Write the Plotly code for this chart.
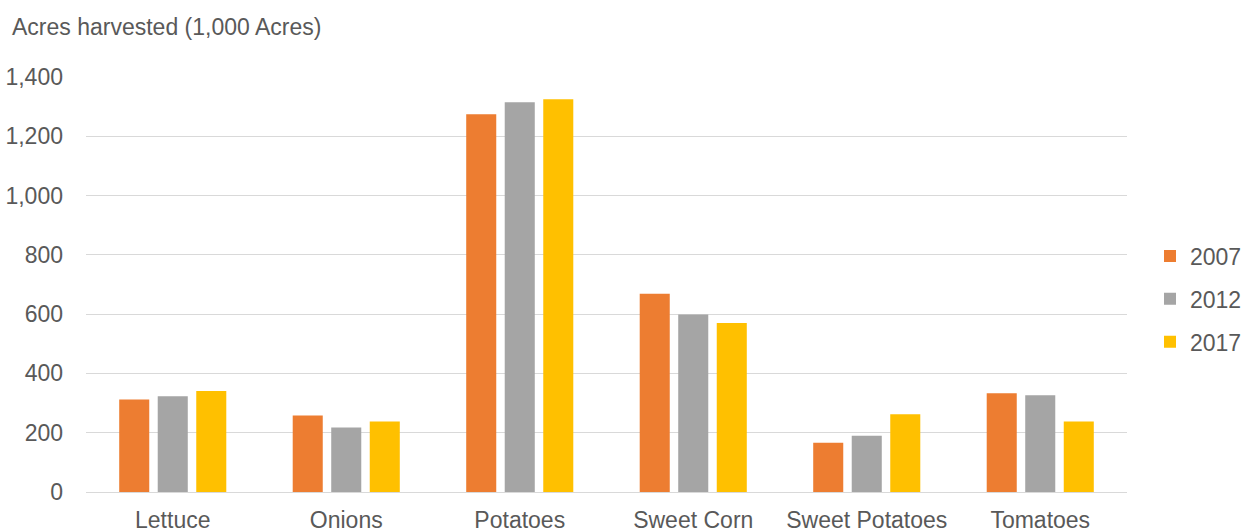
import plotly.graph_objects as go

# Harvested area by crop, thousands of acres
crops = ["Lettuce", "Onions", "Potatoes", "Sweet Corn", "Sweet Potatoes", "Tomatoes"]
acres_2007 = [312, 258, 1274, 669, 166, 333]
acres_2012 = [323, 218, 1315, 599, 190, 326]
acres_2017 = [341, 238, 1325, 570, 262, 238]

years = ["2007", "2012", "2017"]
colors = ["#ED7D31", "#A5A5A5", "#FFC000"]
series = [acres_2007, acres_2012, acres_2017]

tick_vals = [0, 200, 400, 600, 800, 1000, 1200, 1400]
tick_text = ["0", "200", "400", "600", "800", "1,000", "1,200", "1,400"]

FONT = "Liberation Sans, Arial, sans-serif"
TEXT = "#595959"
W, H = 1244, 529

fig = go.Figure()
for name, vals, col in zip(years, series, colors):
    fig.add_trace(go.Bar(
        x=crops, y=vals, name=name, legendgroup=name,
        marker=dict(color=col, line=dict(width=0)),
    ))

fig.update_layout(
    width=W, height=H,
    margin=dict(l=86, r=117, t=77, b=37, autoexpand=False),
    paper_bgcolor="white", plot_bgcolor="white",
    font=dict(family=FONT, size=23, color=TEXT),
    barmode="group", bargap=0.334, bargroupgap=0.22,
    title=dict(
        text="Acres harvested (1,000 Acres)",
        x=12 / W, xanchor="left", xref="container",
        y=1 - 27 / H, yanchor="middle", yref="container",
        font=dict(family=FONT, size=23, color=TEXT),
    ),
    legend=dict(
        xref="container", yref="container",
        x=1150 / W, xanchor="left", y=1 - 299 / H, yanchor="middle",
        traceorder="grouped", tracegroupgap=10, itemwidth=30,
        font=dict(family=FONT, size=23, color=TEXT),
        bgcolor="rgba(0,0,0,0)",
    ),
    showlegend=True,
)
fig.update_yaxes(
    range=[0, 1400], tickvals=tick_vals, ticktext=tick_text,
    showgrid=True, gridcolor="#D9D9D9", gridwidth=1,
    zeroline=False, showline=False, ticks="", ticklabelstandoff=22,
    automargin=False,
    tickfont=dict(family=FONT, size=23, color=TEXT),
)
fig.update_xaxes(
    showline=True, linecolor="#D9D9D9", linewidth=1,
    ticks="", showgrid=False, ticklabelstandoff=7, automargin=False,
    tickfont=dict(family=FONT, size=23, color=TEXT),
)

fig.write_html("out.html")
